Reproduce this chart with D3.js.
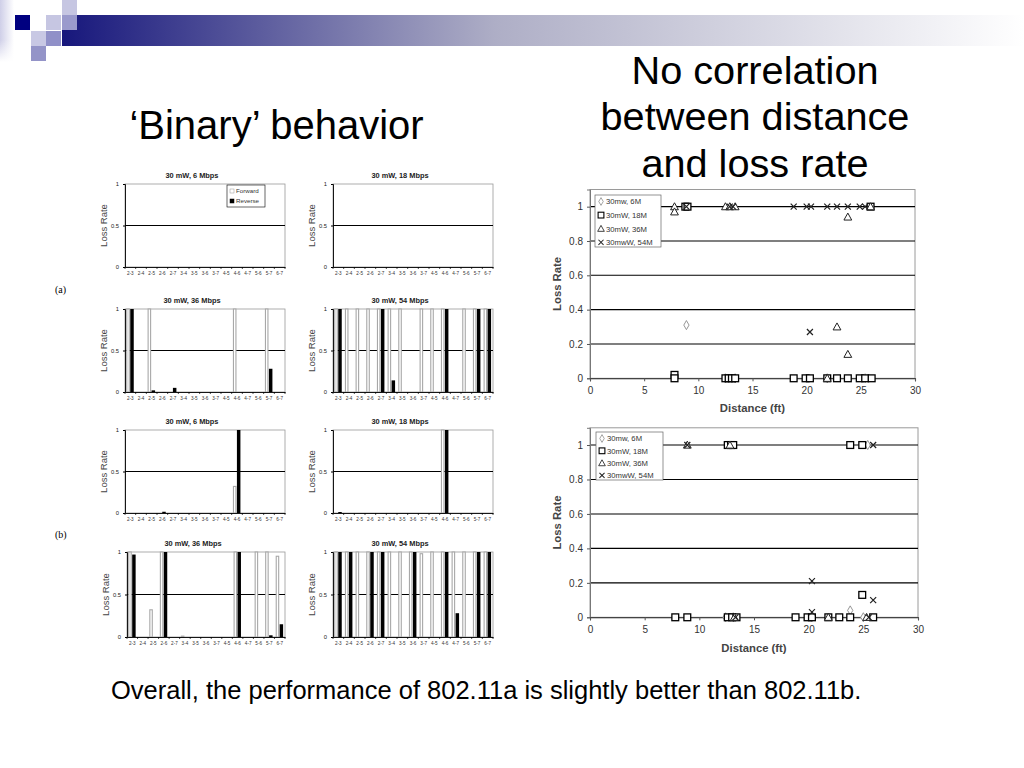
<!DOCTYPE html>
<html><head><meta charset="utf-8">
<script src="https://cdn.jsdelivr.net/npm/d3@7"></script>
<style>
html,body{margin:0;padding:0;background:#fff;}
svg{display:block;font-family:"Liberation Sans",Arial,sans-serif;}
</style></head>
<body>
<svg id="slide" width="1024" height="768"></svg>
<script>
// ---------- DATA ----------
const pairLabels = ["2-3","2-4","2-5","2-6","2-7","3-4","3-5","3-6","3-7","4-5","4-6","4-7","5-6","5-7","6-7"];
const yTicksBar = [0, 0.5, 1];

const a6Fwd  = [0,0,0,0,0,0,0,0,0,0,0,0,0,0,0];
const a6Rev  = [0,0,0,0,0,0,0,0,0,0,0,0,0,0,0];
const a18Fwd = [0,0,0,0,0,0,0,0,0,0,0,0,0,0,0];
const a18Rev = [0,0,0,0,0,0,0,0,0,0,0,0,0,0,0];
const a36Fwd = [1,0,1,0,0,0,0,0,0,0,1,0,0,1,0];
const a36Rev = [1,0,0.02,0,0.05,0,0,0,0,0,0,0,0,0.28,0];
const a54Fwd = [1,1,1,1,1,1,1,0,1,1,1,0,1,1,1];
const a54Rev = [1,0,0,0,1,0.14,0,0,0,0,1,0,0,1,1];

const b6Fwd  = [0,0,0,0,0,0,0,0,0,0,0.32,0,0,0,0];
const b6Rev  = [0,0,0,0.015,0,0,0,0,0,0,1,0,0,0,0];
const b18Fwd = [0,0,0,0,0,0,0,0,0,0,1,0,0,0,0];
const b18Rev = [0.012,0,0,0,0,0,0,0,0,0,1,0,0,0,0];
const b36Fwd = [1,0,0.32,1,0,0.01,0,0,0,0,1,0,1,1,0.95];
const b36Rev = [0.97,0,0,1,0,0,0,0,0,0,1,0,0,0.02,0.15];
const b54Fwd = [1,1,1,1,1,1,1,1,0.98,1,1,1,1,1,1];
const b54Rev = [1,1,0,1,1,0,0,1,0,0,1,0.28,0,1,1];

const barTitles = ["30 mW, 6 Mbps","30 mW, 18 Mbps","30 mW, 36 Mbps","30 mW, 54 Mbps"];
const barTitlesB = ["30 mW, 6 Mbps","30 mW, 18 Mbps","30 mW, 36 Mbps","30 mW, 54 Mbps"];

// scatter: [distance ft, loss rate]
const top6M  = [[8.9,0.31],[12.5,0],[13.4,0],[21.9,0],[25.4,0]];
const top18M = [[7.8,0.02],[7.8,0],[8.8,1],[9.0,1],[12.5,0],[12.8,0],[13.1,0],[13.4,0],[18.8,0],[19.9,0],[20.3,0],[21.9,0],[22.8,0],[23.8,0],[24.9,0],[25.4,0],[26.0,0],[25.9,1]];
const top36M = [[7.8,1],[7.8,0.97],[12.5,1],[12.9,1],[13.4,1],[23.8,0.94],[22.8,0.30],[23.8,0.14],[25.9,1],[21.9,0]];
const top54M = [[8.9,1],[12.9,1],[13.2,1],[18.8,1],[20.0,1],[20.4,1],[21.9,1],[22.8,1],[23.8,1],[24.9,1],[25.4,1],[20.3,0.27]];

const bot6M  = [[12.4,0],[23.8,0.04],[25.0,0],[25.4,1],[20.3,0],[13.1,0]];
const bot18M = [[7.8,0],[8.9,0],[12.6,1],[12.9,1],[13.1,1],[12.6,0],[13.0,0],[13.4,0],[18.8,0],[19.9,0],[20.3,0],[21.8,0],[22.8,0],[23.8,1],[23.8,0],[24.9,1],[24.9,0.13],[25.9,0]];
const bot36M = [[8.9,1],[12.8,1],[25.3,0],[21.8,0],[13.2,0]];
const bot54M = [[8.9,1],[25.9,1],[20.3,0.21],[20.3,0.03],[25.9,0.10],[25.5,0],[13.3,0]];

const seriesNames = ["30mw, 6M","30mW, 18M","30mW, 36M","30mwW, 54M"];
const scatterXTicks = [0,5,10,15,20,25,30];
const scatterYTicks = [0,0.2,0.4,0.6,0.8,1];

// ---------- DRAW ----------
const svg = d3.select("#slide");
const defs = svg.append("defs");
const FONT = '"Liberation Sans",Arial,sans-serif';

// logo
const gBar = defs.append("linearGradient").attr("id","topbar").attr("x1","0").attr("x2","1").attr("y1","0").attr("y2","0");
gBar.append("stop").attr("offset","0%").attr("stop-color","#17177c");
gBar.append("stop").attr("offset","45%").attr("stop-color","#aeaec6");
gBar.append("stop").attr("offset","100%").attr("stop-color","#ffffff");
const gSide = defs.append("linearGradient").attr("id","sidebar").attr("x1","0").attr("x2","1");
gSide.append("stop").attr("offset","0%").attr("stop-color","#cfcfe8");
gSide.append("stop").attr("offset","100%").attr("stop-color","#ffffff");
const gSide2 = defs.append("linearGradient").attr("id","sidefade").attr("x1","0").attr("x2","0").attr("y1","0").attr("y2","1");
gSide2.append("stop").attr("offset","0%").attr("stop-color","#fff").attr("stop-opacity",0);
gSide2.append("stop").attr("offset","100%").attr("stop-color","#fff").attr("stop-opacity",1);

const logo = svg.append("g");
logo.append("rect").attr("x",0).attr("y",0).attr("width",14).attr("height",62).attr("fill","url(#sidebar)");
logo.append("rect").attr("x",0).attr("y",40).attr("width",14).attr("height",22).attr("fill","url(#sidefade)");
logo.append("rect").attr("x",62).attr("y",15).attr("width",962).attr("height",31).attr("fill","url(#topbar)");
const squares = [[15,15,"#000080"],[46,15,"#c6c6e2"],[62,0,"#c6c6e2"],[62,15,"#9a9acc"],[31,31,"#c8c8e4"],[46,31,"#9090c8"],[31,46,"#9494c8"]];
logo.selectAll("rect.sq").data(squares).join("rect").attr("class","sq")
  .attr("x",d=>d[0]).attr("y",d=>d[1]).attr("width",15).attr("height",15).attr("fill",d=>d[2]);

// headings
svg.append("text").attr("x",276.5).attr("y",139).attr("text-anchor","middle")
  .attr("font-size",40).attr("font-family",FONT).text("\u2018Binary\u2019 behavior");
const h2 = svg.append("text").attr("text-anchor","middle").attr("font-size",39.7).attr("font-family",FONT);
["No correlation","between distance","and loss rate"].forEach((t,i)=>{
  h2.append("tspan").attr("x",755).attr("y",83.5+i*46.5).text(t);
});
svg.append("text").attr("x",111).attr("y",699).attr("font-size",25.5).attr("font-family",FONT)
  .text("Overall, the performance of 802.11a is slightly better than 802.11b.");
svg.append("text").attr("x",55).attr("y",293).attr("font-size",10).attr("font-family","'Liberation Serif',serif").text("(a)");
svg.append("text").attr("x",55).attr("y",538).attr("font-size",10).attr("font-family","'Liberation Serif',serif").text("(b)");

// small bar charts
function barChart(cfg){
  const g = svg.append("g");
  const x = d3.scaleBand().domain(pairLabels).range([cfg.x0,cfg.x1]).padding(0);
  const sub = d3.scaleBand().domain(["F","R"]).range([x.bandwidth()*0.12, x.bandwidth()*0.82]).paddingInner(0.12);
  const y = d3.scaleLinear().domain([0,1]).range([cfg.y1,cfg.y0]);
  g.append("rect").attr("x",cfg.x0).attr("y",cfg.y0).attr("width",cfg.x1-cfg.x0).attr("height",cfg.y1-cfg.y0)
    .attr("fill","#fff").attr("stroke","#9a9a9a").attr("stroke-width",0.8);
  g.append("line").attr("x1",cfg.x0).attr("x2",cfg.x1).attr("y1",y(0.5)).attr("y2",y(0.5)).attr("stroke","#000").attr("stroke-width",1);
  const rows = pairLabels.map((c,i)=>({c, f:cfg.fwd[i], r:cfg.rev[i]}));
  g.selectAll("rect.f").data(rows.filter(d=>d.f>0)).join("rect").attr("class","f")
    .attr("x",d=>x(d.c)+sub("F")+0.5).attr("width",Math.max(sub.bandwidth()-1,1))
    .attr("y",d=>y(d.f)).attr("height",d=>y(0)-y(d.f))
    .attr("fill","#fff").attr("stroke","#a8a8a8").attr("stroke-width",1.1);
  g.selectAll("rect.r").data(rows.filter(d=>d.r>0)).join("rect").attr("class","r")
    .attr("x",d=>x(d.c)+sub("R")).attr("width",sub.bandwidth())
    .attr("y",d=>y(d.r)).attr("height",d=>Math.max(y(0)-y(d.r),0.8))
    .attr("fill","#000");
  // axes
  const ya = g.append("g").attr("transform",`translate(${cfg.x0},0)`)
    .call(d3.axisLeft(y).tickValues(yTicksBar).tickFormat(d3.format("~g")).tickSize(2).tickPadding(4));
  ya.select(".domain").attr("stroke","#000").attr("stroke-width",0.9);
  ya.selectAll("text").attr("font-size",5.8).attr("font-family",FONT).attr("fill","#222");
  const xa = g.append("g").attr("transform",`translate(0,${cfg.y1})`)
    .call(d3.axisBottom(x).tickSize(0).tickPadding(5));
  xa.select(".domain").attr("stroke","#000").attr("stroke-width",0.9);
  xa.selectAll("text").attr("font-size",4.6).attr("font-family",FONT).attr("fill","#333");
  // between-category ticks
  g.selectAll("line.ct").data(pairLabels.concat(["end"])).join("line").attr("class","ct")
    .attr("x1",(d,i)=>cfg.x0+i*x.bandwidth()).attr("x2",(d,i)=>cfg.x0+i*x.bandwidth())
    .attr("y1",cfg.y1).attr("y2",cfg.y1+2).attr("stroke","#000").attr("stroke-width",0.7);
  g.append("text").attr("x",(cfg.x0+cfg.x1)/2-13).attr("y",cfg.y0-6).attr("text-anchor","middle")
    .attr("font-size",7.4).attr("font-weight","bold").attr("font-family",FONT).attr("fill","#222").text(cfg.title);
  g.append("text").attr("transform",`translate(${cfg.x0-18},${(cfg.y0+cfg.y1)/2}) rotate(-90)`)
    .attr("text-anchor","middle").attr("font-size",9.5).attr("font-family",FONT).attr("fill","#444").text("Loss Rate");
  if(cfg.legend){
    const lg = g.append("g");
    lg.append("rect").attr("x",227).attr("y",185).attr("width",38).attr("height",22).attr("fill","#fff").attr("stroke","#000").attr("stroke-width",0.6);
    const items = [["Forward","#fff","#999"],["Reverse","#000","#000"]];
    items.forEach((it,i)=>{
      lg.append("rect").attr("x",230).attr("y",189+i*10).attr("width",4).attr("height",4).attr("fill",it[1]).attr("stroke",it[2]).attr("stroke-width",0.5);
      lg.append("text").attr("x",236).attr("y",193.3+i*10).attr("font-size",6.2).attr("font-family",FONT).attr("fill","#333").text(it[0]);
    });
  }
}
barChart({x0:125,x1:285,y0:184,y1:267,title:barTitles[0],fwd:a6Fwd,rev:a6Rev,legend:true});
barChart({x0:333,x1:493,y0:184,y1:267,title:barTitles[1],fwd:a18Fwd,rev:a18Rev});
barChart({x0:125,x1:285,y0:309,y1:392,title:barTitles[2],fwd:a36Fwd,rev:a36Rev});
barChart({x0:333,x1:493,y0:309,y1:392,title:barTitles[3],fwd:a54Fwd,rev:a54Rev});
barChart({x0:125,x1:285,y0:430,y1:513,title:barTitlesB[0],fwd:b6Fwd,rev:b6Rev});
barChart({x0:333,x1:493,y0:430,y1:513,title:barTitlesB[1],fwd:b18Fwd,rev:b18Rev});
barChart({x0:127,x1:285,y0:552,y1:637,title:barTitlesB[2],fwd:b36Fwd,rev:b36Rev});
barChart({x0:333,x1:493,y0:552,y1:637,title:barTitlesB[3],fwd:b54Fwd,rev:b54Rev});

// scatter plots
function marker(sel, type){
  if(type===0){ // diamond
    sel.append("path").attr("d",d3.symbol().type(d3.symbolDiamond).size(24)())
      .attr("fill","#fff").attr("stroke","#8a8a8a").attr("stroke-width",0.9);
  } else if(type===1){
    sel.append("rect").attr("x",-3.4).attr("y",-3.4).attr("width",6.8).attr("height",6.8)
      .attr("fill","#fff").attr("stroke","#000").attr("stroke-width",1.3);
  } else if(type===2){
    sel.append("path").attr("d","M0,-3.9L3.9,3.1L-3.9,3.1Z")
      .attr("fill","#fff").attr("stroke","#222").attr("stroke-width",1);
  } else {
    sel.append("path").attr("d","M-3,-3L3,3M-3,3L3,-3")
      .attr("fill","none").attr("stroke","#222").attr("stroke-width",1.2);
  }
}
function scatter(cfg){
  const g = svg.append("g");
  const x = d3.scaleLinear().domain([0,30]).range([cfg.x0,cfg.x1]);
  const y = d3.scaleLinear().domain([0,1.1]).range([cfg.yb,cfg.yt]);
  g.append("rect").attr("x",cfg.x0).attr("y",cfg.yt).attr("width",cfg.x1-cfg.x0).attr("height",cfg.yb-cfg.yt)
    .attr("fill","#fff").attr("stroke","#9a9a9a").attr("stroke-width",1);
  g.selectAll("line.grid").data(scatterYTicks.filter(v=>v>0)).join("line").attr("class","grid")
    .attr("x1",cfg.x0).attr("x2",cfg.x1).attr("y1",d=>y(d)).attr("y2",d=>y(d)).attr("stroke","#000").attr("stroke-width",1.1);
  const ya = g.append("g").attr("transform",`translate(${cfg.x0},0)`)
    .call(d3.axisLeft(y).tickValues(scatterYTicks).tickFormat(d3.format("~g")).tickSize(3).tickPadding(4));
  ya.select(".domain").attr("stroke","#777");
  ya.selectAll(".tick line").attr("stroke","#555");
  ya.selectAll("text").attr("font-size",10).attr("font-family",FONT).attr("fill","#333");
  const xa = g.append("g").attr("transform",`translate(0,${cfg.yb})`)
    .call(d3.axisBottom(x).tickValues(scatterXTicks).tickSize(3).tickPadding(6));
  xa.select(".domain").attr("stroke","#222").attr("stroke-width",1.1);
  xa.selectAll(".tick line").attr("stroke","#555");
  xa.selectAll("text").attr("font-size",10).attr("font-family",FONT).attr("fill","#333");
  g.append("text").attr("x",(cfg.x0+cfg.x1)/2).attr("y",cfg.yb+cfg.xtOff).attr("text-anchor","middle")
    .attr("font-size",11.3).attr("font-weight","bold").attr("font-family",FONT).attr("fill","#444").text("Distance (ft)");
  g.append("text").attr("transform",`translate(${cfg.x0-29},${(cfg.yt+cfg.yb)/2}) rotate(-90)`)
    .attr("text-anchor","middle").attr("font-size",11.3).attr("font-weight","bold").attr("font-family",FONT).attr("fill","#444").text("Loss Rate");
  cfg.series.forEach((pts,si)=>{
    g.selectAll(null).data(pts).join("g").attr("transform",d=>`translate(${x(d[0])},${y(d[1])})`)
      .each(function(){ marker(d3.select(this), si); });
  });
  // legend
  const lg = g.append("g");
  lg.append("rect").attr("x",cfg.lx).attr("y",cfg.ly).attr("width",cfg.lw).attr("height",cfg.lh)
    .attr("fill","#fff").attr("stroke","#666").attr("stroke-width",0.7);
  seriesNames.forEach((n,i)=>{
    const yy = cfg.ly + 6.5 + i*cfg.lstep;
    const m = lg.append("g").attr("transform",`translate(${cfg.lx+6},${yy}) scale(0.85)`);
    marker(m,i);
    lg.append("text").attr("x",cfg.lx+11).attr("y",yy+2.8).attr("font-size",7.7).attr("font-family",FONT).attr("fill","#333").text(n);
  });
}
scatter({x0:590,x1:915,yb:378.3,yt:189.5,xtOff:34,series:[top6M,top18M,top36M,top54M],lx:595,ly:195,lw:66,lh:52,lstep:13.6});
scatter({x0:590,x1:918,yb:617.3,yt:427.8,xtOff:35,series:[bot6M,bot18M,bot36M,bot54M],lx:596,ly:432,lw:67,lh:48,lstep:12.3});
</script>
</body></html>
